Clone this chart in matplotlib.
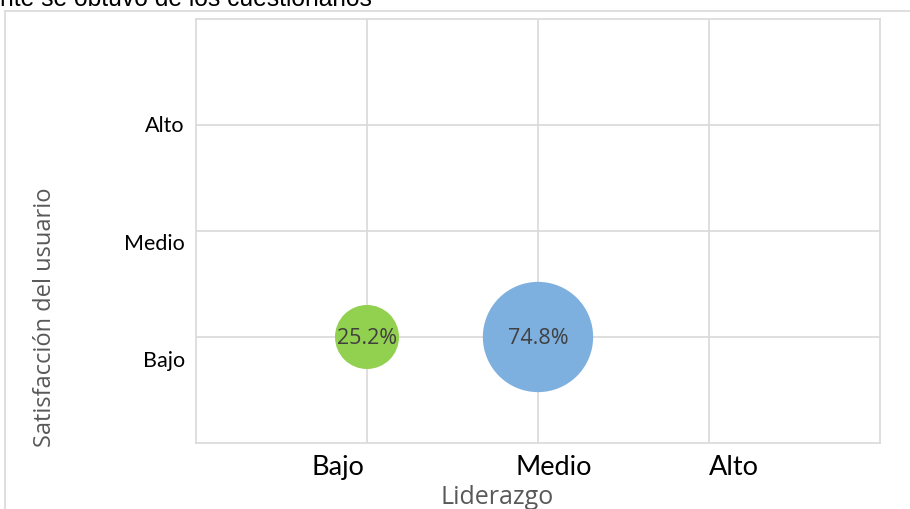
import matplotlib.pyplot as plt
from matplotlib.lines import Line2D
import matplotlib.transforms as mtransforms

# data
niveles = ['Bajo', 'Medio', 'Alto']
liderazgo = [1, 2]          # Bajo, Medio
satisfaccion = [1, 1]       # Bajo, Bajo
porcentajes = [25.2, 74.8]
colores = ['#92D050', '#7EB0DF']

plt.rcParams['font.family'] = ['Lato', 'DejaVu Sans']

W, H = 910, 510
fig = plt.figure(figsize=(9.1, 5.1), dpi=100)
ax = fig.add_axes([196 / W, 1 - 444 / H, (880 - 196) / W, (444 - 20) / H])

# bubbles, area proportional to the percentage
ax.scatter(liderazgo, satisfaccion, s=[p * 84.3 for p in porcentajes],
           c=colores, zorder=3, linewidths=0)
for x, y, p in zip(liderazgo, satisfaccion, porcentajes):
    ax.text(x, y, f'{p}%', ha='center', va='center', fontsize=15.5,
            family='Open Sans', color='#404040', zorder=4)

ax.set_xlim(0, 4)
ax.set_ylim(0, 4)
ax.set_xticks([1, 2, 3])
ax.set_xticklabels(niveles, fontsize=19.5)
ax.set_yticks([1, 2, 3])
ax.set_yticklabels(niveles, fontsize=15.5)
ax.tick_params(length=0)
ax.tick_params(axis='y', pad=8)
ax.tick_params(axis='x', pad=8)

# excel places the category labels a bit off the gridlines
px = 1 / fig.dpi
for lab, dx in zip(ax.get_xticklabels(), [-29, 16, 25]):
    lab.set_transform(lab.get_transform() +
                      mtransforms.ScaledTranslation(dx * px, 0, fig.dpi_scale_trans))
for lab, dy in zip(ax.get_yticklabels(), [-21, -10, 2]):
    lab.set_transform(lab.get_transform() +
                      mtransforms.ScaledTranslation(0, dy * px, fig.dpi_scale_trans))

ax.grid(True, color='#D9D9D9', linewidth=1.2, zorder=0)
ax.set_axisbelow(True)
for s in ax.spines.values():
    s.set_color('#D9D9D9')
    s.set_linewidth(1.2)

ax.set_xlabel('Liderazgo', fontsize=18, family='Open Sans', color='#595959')
ax.xaxis.set_label_coords((497 - 196) / 684, -(498 - 444) / 424)
ax.xaxis.label.set_va('center')
ax.set_ylabel('Satisfacción del usuario', fontsize=17, family='Open Sans', color='#595959')
ax.yaxis.set_label_coords(-(196 - 45) / 684, (444 - 317) / 424)
ax.yaxis.label.set_va('center')

# outer chart border (partly visible)
fig.add_artist(Line2D([5 / W, 5 / W], [0, 1 - 12 / H], color='#D9D9D9', lw=1.2))
fig.add_artist(Line2D([5 / W, 1], [1 - 12 / H, 1 - 12 / H], color='#D9D9D9', lw=1.2))

# cut title from the document above
fig.text(0, 1 - 6 / H, 'nte se obtuvo de los cuestionarios', fontsize=17.7,
         family='Liberation Sans', va='baseline', ha='left')

fig.savefig('out.png', dpi=100)
